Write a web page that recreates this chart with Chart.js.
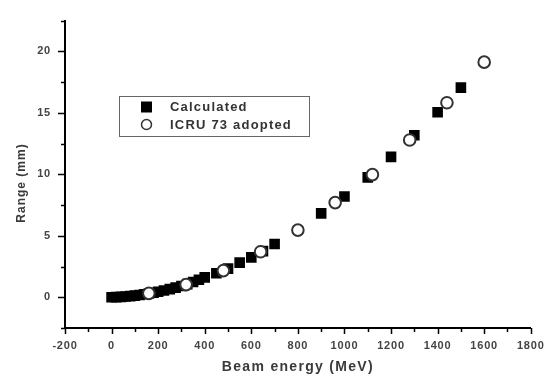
<!DOCTYPE html>
<html>
<head>
<meta charset="utf-8">
<title>Range vs beam energy</title>
<script src="https://cdn.jsdelivr.net/npm/chart.js@4.4.1/dist/chart.umd.min.js"></script>
<style>
  html, body { margin: 0; padding: 0; background: #fff; }
  #wrap { width: 554px; height: 377px; }
</style>
</head>
<body>
<div id="wrap"><canvas id="rangeChart" width="554" height="377"></canvas></div>
<script>
// ========== DATA ==========
const calcEnergy = [0, 20, 40, 60, 80, 100, 120, 140, 160, 180, 200, 225, 250, 275, 300, 325, 350, 375, 400,
                    450, 500, 550, 600, 650, 700, 900, 1000, 1100, 1200, 1300, 1400, 1500];
const calcRange  = [0.00, 0.01, 0.03, 0.06, 0.09, 0.13, 0.18, 0.24, 0.30, 0.37, 0.45, 0.55, 0.66, 0.78, 0.92, 1.07, 1.24, 1.42, 1.62,
                    1.95, 2.33, 2.82, 3.24, 3.75, 4.33, 6.82, 8.20, 9.75, 11.42, 13.18, 15.05, 17.05];

const icruEnergy = [160, 320, 480, 640, 800, 960, 1120, 1280, 1440, 1600];
const icruRange  = [0.32, 1.03, 2.17, 3.70, 5.46, 7.70, 9.97, 12.79, 15.82, 19.12];

const xTickValues  = [-200, 0, 200, 400, 600, 800, 1000, 1200, 1400, 1600, 1800];
const xMinorTicks  = [-100, 100, 300, 500, 700, 900, 1100, 1300, 1500, 1700];
const yTickValues  = [0, 5, 10, 15, 20];
const yMinorTicks  = [-2.5, 2.5, 7.5, 12.5, 17.5, 22.5];
const yRange       = [-2.5, 22.5];

const seriesNames = ['Calculated', 'ICRU 73 adopted'];
const xTitle = 'Beam energy (MeV)';
const yTitle = 'Range (mm)';

const toPoints = (xs, ys) => xs.map((x, i) => ({ x: x, y: ys[i] }));

// Slight letter spacing for the tick labels (Chart.js keeps the ctx state)
const spacing = {
    id: 'spacing',
    beforeDraw(chart) {
        chart.ctx.letterSpacing = '0.8px';
    }
};

// Tick marks (major + minor), drawn outward
const tickMarks = {
    id: 'tickMarks',
    afterDraw(chart) {
        const { ctx, chartArea, scales: { x, y } } = chart;
        ctx.save();
        ctx.strokeStyle = '#000';
        ctx.lineWidth = 1.5;
        ctx.beginPath();
        xTickValues.forEach(v => {
            const px = Math.round(x.getPixelForValue(v)) + 0.5;
            ctx.moveTo(px, chartArea.bottom);
            ctx.lineTo(px, chartArea.bottom + 6);
        });
        xMinorTicks.forEach(v => {
            const px = Math.round(x.getPixelForValue(v)) + 0.5;
            ctx.moveTo(px, chartArea.bottom);
            ctx.lineTo(px, chartArea.bottom + 4);
        });
        yTickValues.forEach(v => {
            const py = Math.round(y.getPixelForValue(v)) + 0.5;
            ctx.moveTo(chartArea.left, py);
            ctx.lineTo(chartArea.left - 7, py);
        });
        yMinorTicks.forEach(v => {
            const py = Math.round(y.getPixelForValue(v)) + 0.5;
            ctx.moveTo(chartArea.left, py);
            ctx.lineTo(chartArea.left - 4, py);
        });
        ctx.stroke();
        ctx.restore();
    }
};

// Axis titles + boxed legend
const labels = {
    id: 'labels',
    afterDraw(chart) {
        const { ctx, chartArea } = chart;
        ctx.save();
        ctx.fillStyle = '#3a3a3a';
        ctx.textAlign = 'center';
        ctx.textBaseline = 'middle';

        // x title
        ctx.font = 'bold 14px "Liberation Sans", Arial, sans-serif';
        ctx.letterSpacing = '1.3px';
        ctx.fillText(xTitle, (chartArea.left + chartArea.right) / 2, 367);

        // y title
        ctx.font = 'bold 12px "Liberation Sans", Arial, sans-serif';
        ctx.letterSpacing = '1px';
        ctx.save();
        ctx.translate(21.5, 183);
        ctx.rotate(-Math.PI / 2);
        ctx.fillText(yTitle, 0, 0);
        ctx.restore();

        // legend box
        ctx.strokeStyle = '#666';
        ctx.lineWidth = 1;
        ctx.strokeRect(119.5, 96.5, 190, 40);

        ctx.fillStyle = '#000';
        ctx.fillRect(141, 101.5, 11, 11);

        ctx.beginPath();
        ctx.arc(146.5, 124.5, 5, 0, Math.PI * 2);
        ctx.fillStyle = '#fff';
        ctx.fill();
        ctx.strokeStyle = '#333';
        ctx.lineWidth = 1.5;
        ctx.stroke();

        ctx.fillStyle = '#333';
        ctx.textAlign = 'left';
        ctx.font = 'bold 13px "Liberation Sans", Arial, sans-serif';
        ctx.letterSpacing = '1.2px';
        ctx.fillText(seriesNames[0], 170, 107.5);
        ctx.fillText(seriesNames[1], 170, 125);
        ctx.restore();
    }
};

document.addEventListener('DOMContentLoaded', function() {
    const ctx = document.getElementById('rangeChart').getContext('2d');
    const tickFont = { family: '"Liberation Sans", Arial, sans-serif', size: 11, weight: 'bold' };

    new Chart(ctx, {
        type: 'scatter',
        data: {
            datasets: [
                {
                    label: seriesNames[0],
                    data: toPoints(calcEnergy, calcRange),
                    pointStyle: 'rect',
                    pointRadius: 7.5,
                    pointBackgroundColor: '#000',
                    pointBorderWidth: 0,
                    order: 2
                },
                {
                    label: seriesNames[1],
                    data: toPoints(icruEnergy, icruRange),
                    pointStyle: 'circle',
                    pointRadius: 5.8,
                    pointBackgroundColor: '#fff',
                    pointBorderColor: '#333',
                    pointBorderWidth: 2,
                    order: 1
                }
            ]
        },
        options: {
            responsive: false,
            animation: false,
            layout: { padding: { top: 12, right: 10, left: 0, bottom: 0 } },
            plugins: {
                legend: { display: false },
                tooltip: { enabled: false }
            },
            scales: {
                x: {
                    type: 'linear',
                    min: xTickValues[0],
                    max: xTickValues[xTickValues.length - 1],
                    afterBuildTicks: s => { s.ticks = xTickValues.map(v => ({ value: v })); },
                    afterFit: s => { s.height = 49; },
                    grid: { display: false, drawTicks: false },
                    border: { display: true, color: '#000', width: 2 },
                    ticks: {
                        color: '#444', font: tickFont, padding: 11, maxRotation: 0, autoSkip: false,
                        callback: v => String(v)
                    }
                },
                y: {
                    type: 'linear',
                    min: yRange[0],
                    max: yRange[1],
                    afterBuildTicks: s => { s.ticks = yTickValues.map(v => ({ value: v })); },
                    afterFit: s => { s.width = 65; },
                    grid: { display: false, drawTicks: false },
                    border: { display: true, color: '#000', width: 2 },
                    ticks: { color: '#444', font: tickFont, padding: 14, callback: v => String(v) }
                }
            }
        },
        plugins: [spacing, tickMarks, labels]
    });
});
</script>
</body>
</html>
